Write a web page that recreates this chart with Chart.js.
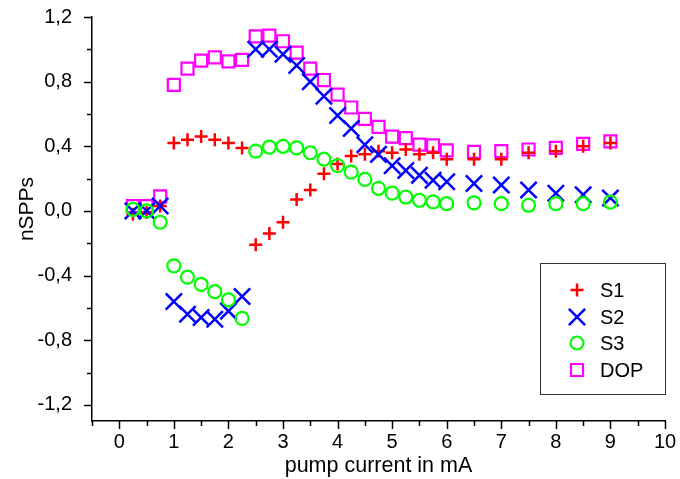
<!DOCTYPE html>
<html>
<head>
<meta charset="utf-8">
<script src="https://cdn.jsdelivr.net/npm/chart.js@4"></script>
<style>
  html, body { margin: 0; padding: 0; background: #fff; }
</style>
</head>
<body>
<canvas id="dataChart" width="680" height="479"></canvas>
<script>
// pump current (mA)
const current = [0.25, 0.5, 0.75, 1, 1.25, 1.5, 1.75, 2, 2.25, 2.5, 2.75, 3, 3.25, 3.5, 3.75,
  4, 4.25, 4.5, 4.75, 5, 5.25, 5.5, 5.75, 6, 6.5, 7, 7.5, 8, 8.5, 9];

// normalized Stokes parameters and degree of polarization
const s1 = [-0.02, -0.01, 0.03, 0.42, 0.44, 0.46, 0.44, 0.42, 0.39, -0.21, -0.14, -0.07, 0.07, 0.13, 0.23,
  0.29, 0.34, 0.35, 0.37, 0.36, 0.38, 0.35, 0.36, 0.32, 0.32, 0.32, 0.36, 0.37, 0.40, 0.42];
const s2 = [0.0, 0.0, 0.03, -0.56, -0.64, -0.66, -0.67, -0.62, -0.53, 1.0, 1.0, 0.97, 0.90, 0.80, 0.71,
  0.59, 0.51, 0.41, 0.35, 0.28, 0.25, 0.22, 0.19, 0.18, 0.17, 0.16, 0.13, 0.11, 0.10, 0.08];
const s3 = [0.01, 0.0, -0.07, -0.34, -0.41, -0.455, -0.50, -0.55, -0.665, 0.37, 0.395, 0.40, 0.39, 0.36, 0.32,
  0.28, 0.24, 0.195, 0.14, 0.11, 0.086, 0.066, 0.056, 0.045, 0.05, 0.045, 0.035, 0.045, 0.045, 0.055];
const dop = [0.03, 0.03, 0.09, 0.78, 0.88, 0.93, 0.95, 0.925, 0.935, 1.08, 1.085, 1.05, 0.98, 0.88, 0.81,
  0.72, 0.64, 0.57, 0.52, 0.46, 0.45, 0.41, 0.405, 0.375, 0.365, 0.37, 0.38, 0.39, 0.415, 0.43];

const seriesNames = ['S1', 'S2', 'S3', 'DOP'];

// axis ticks
const xTicks = [0, 1, 2, 3, 4, 5, 6, 7, 8, 9, 10];
const xMinorTicks = [-0.5, 0.5, 1.5, 2.5, 3.5, 4.5, 5.5, 6.5, 7.5, 8.5, 9.5];
const yTicks = [-1.2, -0.8, -0.4, 0, 0.4, 0.8, 1.2];
const yMinorTicks = [-1.0, -0.6, -0.2, 0.2, 0.6, 1.0];

const FONT = '"Liberation Sans", Arial, sans-serif';

function toPoints(ys) {
  return current.map((x, i) => ({ x: x, y: ys[i] }));
}

const styles = [
  { pointStyle: 'cross', radius: 6.5, color: '#ff0000', width: 2.5 },
  { pointStyle: 'crossRot', radius: 11.5, color: '#0000ff', width: 2.5 },
  { pointStyle: 'circle', radius: 6.5, color: '#00ff00', width: 2.2 },
  { pointStyle: 'rect', radius: 8.5, color: '#ff00ff', width: 2.2 }
];

const allSeries = [s1, s2, s3, dop];
const drawOrder = [3, 2, 1, 4];

const datasets = allSeries.map((ys, i) => ({
  label: seriesNames[i],
  data: toPoints(ys),
  showLine: false,
  pointStyle: styles[i].pointStyle,
  pointRadius: styles[i].radius,
  pointHoverRadius: styles[i].radius,
  borderColor: styles[i].color,
  backgroundColor: 'rgba(0,0,0,0)',
  pointBorderWidth: styles[i].width,
  pointHoverBorderWidth: styles[i].width,
  order: drawOrder[i]
}));

// ticks, y title and boxed legend
const extras = {
  id: 'extras',
  afterDraw(chart) {
    const { ctx, chartArea, scales } = chart;
    const xs = scales.x, ys = scales.y;
    ctx.save();
    ctx.strokeStyle = '#000';
    ctx.lineWidth = 1.5;
    ctx.beginPath();
    yTicks.forEach(v => {
      const p = Math.round(ys.getPixelForValue(v)) + 0.5;
      ctx.moveTo(chartArea.left - 8, p); ctx.lineTo(chartArea.left, p);
    });
    yMinorTicks.forEach(v => {
      const p = Math.round(ys.getPixelForValue(v)) + 0.5;
      ctx.moveTo(chartArea.left - 5, p); ctx.lineTo(chartArea.left, p);
    });
    xTicks.forEach(v => {
      const p = Math.round(xs.getPixelForValue(v)) + 0.5;
      ctx.moveTo(p, chartArea.bottom); ctx.lineTo(p, chartArea.bottom + 8);
    });
    xMinorTicks.forEach(v => {
      const p = Math.round(xs.getPixelForValue(v)) + 0.5;
      ctx.moveTo(p, chartArea.bottom); ctx.lineTo(p, chartArea.bottom + 5);
    });
    ctx.stroke();

    // y axis title
    ctx.fillStyle = '#000';
    ctx.font = '21px ' + FONT;
    ctx.textAlign = 'center';
    ctx.textBaseline = 'middle';
    ctx.translate(27, 209);
    ctx.rotate(-Math.PI / 2);
    ctx.fillText('nSPPs', 0, 0);
    ctx.setTransform(1, 0, 0, 1, 0, 0);

    // legend
    ctx.font = '20px ' + FONT;
    ctx.strokeStyle = '#333';
    ctx.lineWidth = 1;
    ctx.strokeRect(540.5, 263.5, 125, 131);
    const rowY = [290, 317, 343, 370];
    ctx.textAlign = 'left';
    seriesNames.forEach((name, i) => {
      const st = styles[i];
      ctx.strokeStyle = st.color;
      ctx.fillStyle = 'rgba(0,0,0,0)';
      ctx.lineWidth = st.width;
      Chart.helpers.drawPoint(ctx, { pointStyle: st.pointStyle, radius: st.radius, rotation: 0, borderWidth: st.width }, 577, rowY[i]);
      ctx.fillStyle = '#000';
      ctx.fillText(name, 600, rowY[i] + 1);
    });
    ctx.restore();
  }
};

function noOverflow(s) {
  s.paddingTop = 0;
  s.paddingBottom = 0;
  s.paddingLeft = 0;
  s.paddingRight = 0;
}

const ctx = document.getElementById('dataChart').getContext('2d');
const chart = new Chart(ctx, {
  type: 'scatter',
  data: { datasets: datasets },
  options: {
    responsive: false,
    animation: false,
    devicePixelRatio: 1,
    layout: { padding: { top: 17, right: 15, bottom: 0, left: 0 } },
    plugins: {
      legend: { display: false },
      tooltip: { enabled: false }
    },
    scales: {
      x: {
        type: 'linear',
        min: -0.5,
        max: 10,
        afterFit: s => { s.height = 58; noOverflow(s); },
        afterBuildTicks: s => { s.ticks = xTicks.map(v => ({ value: v })); },
        grid: { display: false },
        border: { display: true, color: '#000', width: 1.5 },
        ticks: {
          color: '#000',
          font: { family: FONT, size: 20 },
          padding: 1,
          maxRotation: 0,
          callback: v => String(v)
        },
        title: {
          display: true,
          text: 'pump current in mA',
          color: '#000',
          font: { family: FONT, size: 21.5 },
          padding: { top: 0, bottom: 0 }
        }
      },
      y: {
        type: 'linear',
        min: -1.3,
        max: 1.2,
        afterFit: s => { s.width = 92; noOverflow(s); },
        afterBuildTicks: s => { s.ticks = yTicks.map(v => ({ value: v })); },
        grid: { display: false },
        border: { display: true, color: '#000', width: 1.5 },
        ticks: {
          color: '#000',
          font: { family: FONT, size: 20 },
          padding: 12,
          callback: v => v.toFixed(1).replace('.', ',')
        }
      }
    }
  },
  plugins: [extras]
});
</script>
</body>
</html>
